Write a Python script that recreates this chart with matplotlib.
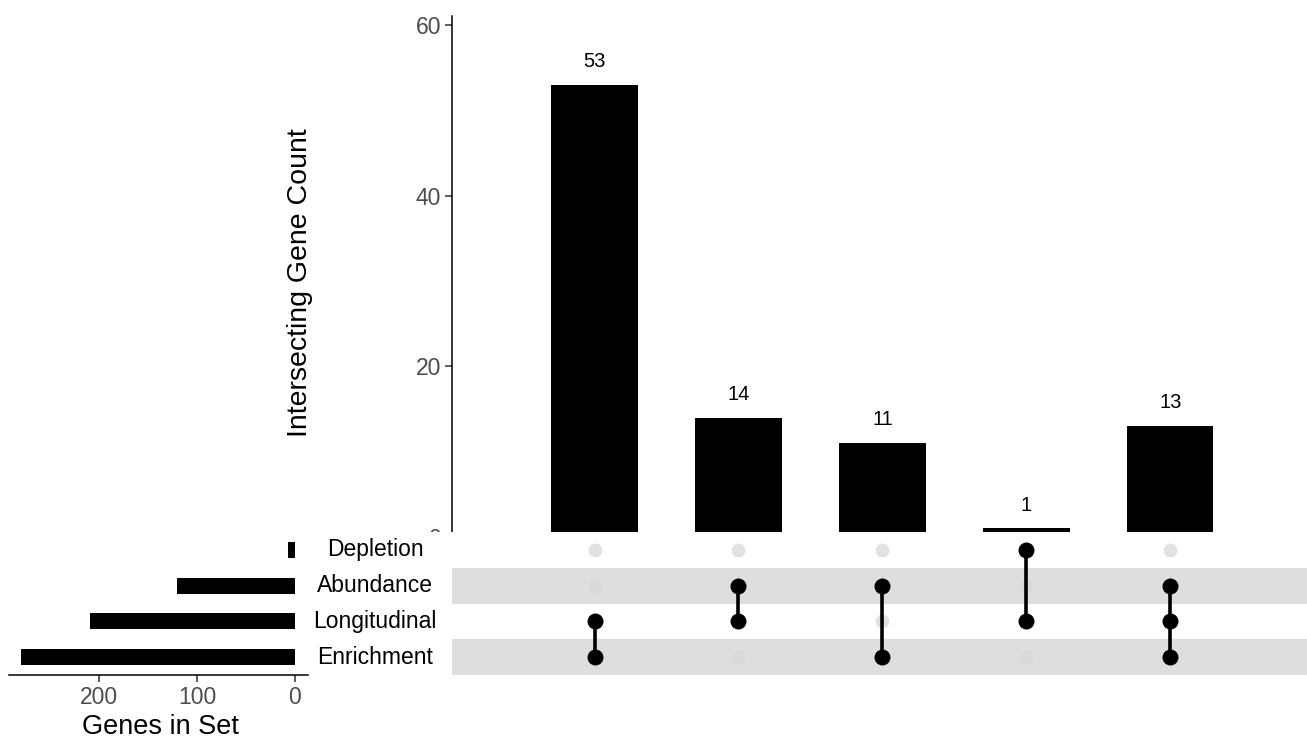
import matplotlib
matplotlib.use("Agg")
import matplotlib.pyplot as plt

plt.rcParams["font.family"] = ["Liberation Sans", "DejaVu Sans"]

# Sets, listed bottom to top in the matrix
set_names = ["Enrichment", "Longitudinal", "Abundance", "Depletion"]
set_sizes = [280, 209, 120, 7]

# Intersections, left to right: member sets and gene counts
intersections = [
    ["Longitudinal", "Enrichment"],
    ["Abundance", "Longitudinal"],
    ["Abundance", "Enrichment"],
    ["Depletion", "Longitudinal"],
    ["Abundance", "Longitudinal", "Enrichment"],
]
intersect_counts = [53, 14, 11, 1, 13]

W, H = 1307, 742
fig = plt.figure(figsize=(W / 100, H / 100), dpi=100)


def box(left, top, right, bottom):
    # pixel box -> figure fraction rect
    return [left / W, 1 - bottom / H, (right - left) / W, (bottom - top) / H]


def blank(ax):
    # keep the white background but hide ticks and frame
    ax.set_xticks([])
    ax.set_yticks([])
    for s in ax.spines.values():
        s.set_visible(False)


tick_gray = "#4d4d4d"
xlim = (-0.99, 4.95)
cols = list(range(len(intersect_counts)))
rows = list(range(len(set_names)))

# intersection size bars
ax_top = fig.add_axes(box(452, 16, 1307, 537))
ax_top.bar(cols, intersect_counts, width=0.6, color="black")
for x, v in zip(cols, intersect_counts):
    ax_top.annotate(str(v), (x, v), xytext=(0, 10), textcoords="offset points",
                    ha="center", va="bottom", fontsize=14.5)
ax_top.set_xlim(*xlim)
ax_top.set_ylim(0, 61.1)
ax_top.set_yticks([0, 20, 40, 60])
ax_top.set_xticks([])
for s in ["top", "right", "bottom"]:
    ax_top.spines[s].set_visible(False)
ax_top.spines["left"].set_linewidth(1.1)
ax_top.tick_params(axis="y", labelsize=16.5, labelcolor=tick_gray, color="#333333",
                   length=5, width=1.1, pad=3)
ax_top.set_zorder(1)

fig.text(300 / W, 1 - 283 / H, "Intersecting Gene Count", rotation=90,
         ha="center", va="center", fontsize=20.5)

# membership matrix
ax_mat = fig.add_axes(box(452, 532, 1307, 675))
ax_mat.set_zorder(3)
ax_mat.set_facecolor("white")
for r in rows:
    if set_names[r] in ("Enrichment", "Abundance"):
        ax_mat.axhspan(r - 0.5, r + 0.5, color="#dedede", lw=0, zorder=0)
for c, members in zip(cols, intersections):
    active = [set_names.index(m) for m in members]
    inactive = [r for r in rows if r not in active]
    ax_mat.plot([c] * len(inactive), inactive, "o", ms=10, color="#d9d9d9",
                alpha=0.75, mec="none", zorder=1)
    ax_mat.plot([c, c], [min(active), max(active)], color="black", lw=2.6, zorder=2)
    ax_mat.plot([c] * len(active), active, "o", ms=11.5, color="black",
                mec="none", zorder=3)
ax_mat.set_xlim(*xlim)
ax_mat.set_ylim(-0.5, 3.5)
blank(ax_mat)

# set name labels
ax_names = fig.add_axes(box(308, 532, 452, 675))
ax_names.set_zorder(3)
ax_names.set_facecolor("white")
ax_names.set_xlim(0, 1)
ax_names.set_ylim(-0.5, 3.5)
for r, name in zip(rows, set_names):
    ax_names.text((375 - 308) / 144, r, name, ha="center", va="center", fontsize=16.5)
blank(ax_names)

# set size bars
ax_set = fig.add_axes(box(9, 532, 308, 675))
ax_set.set_zorder(3)
ax_set.barh(rows, set_sizes, height=0.45, color="black")
ax_set.set_xlim(292, -13.3)
ax_set.set_ylim(-0.5, 3.5)
ax_set.set_xticks([0, 100, 200])
ax_set.set_yticks([])
for s in ["top", "right", "left"]:
    ax_set.spines[s].set_visible(False)
ax_set.spines["bottom"].set_linewidth(1.1)
ax_set.tick_params(axis="x", labelsize=16.5, labelcolor=tick_gray, color="#333333",
                   length=5, width=1.1, pad=3)

fig.text(160 / W, 1 - 727 / H, "Genes in Set", ha="center", va="center", fontsize=19.5)

fig.savefig("out.png", dpi=100)
